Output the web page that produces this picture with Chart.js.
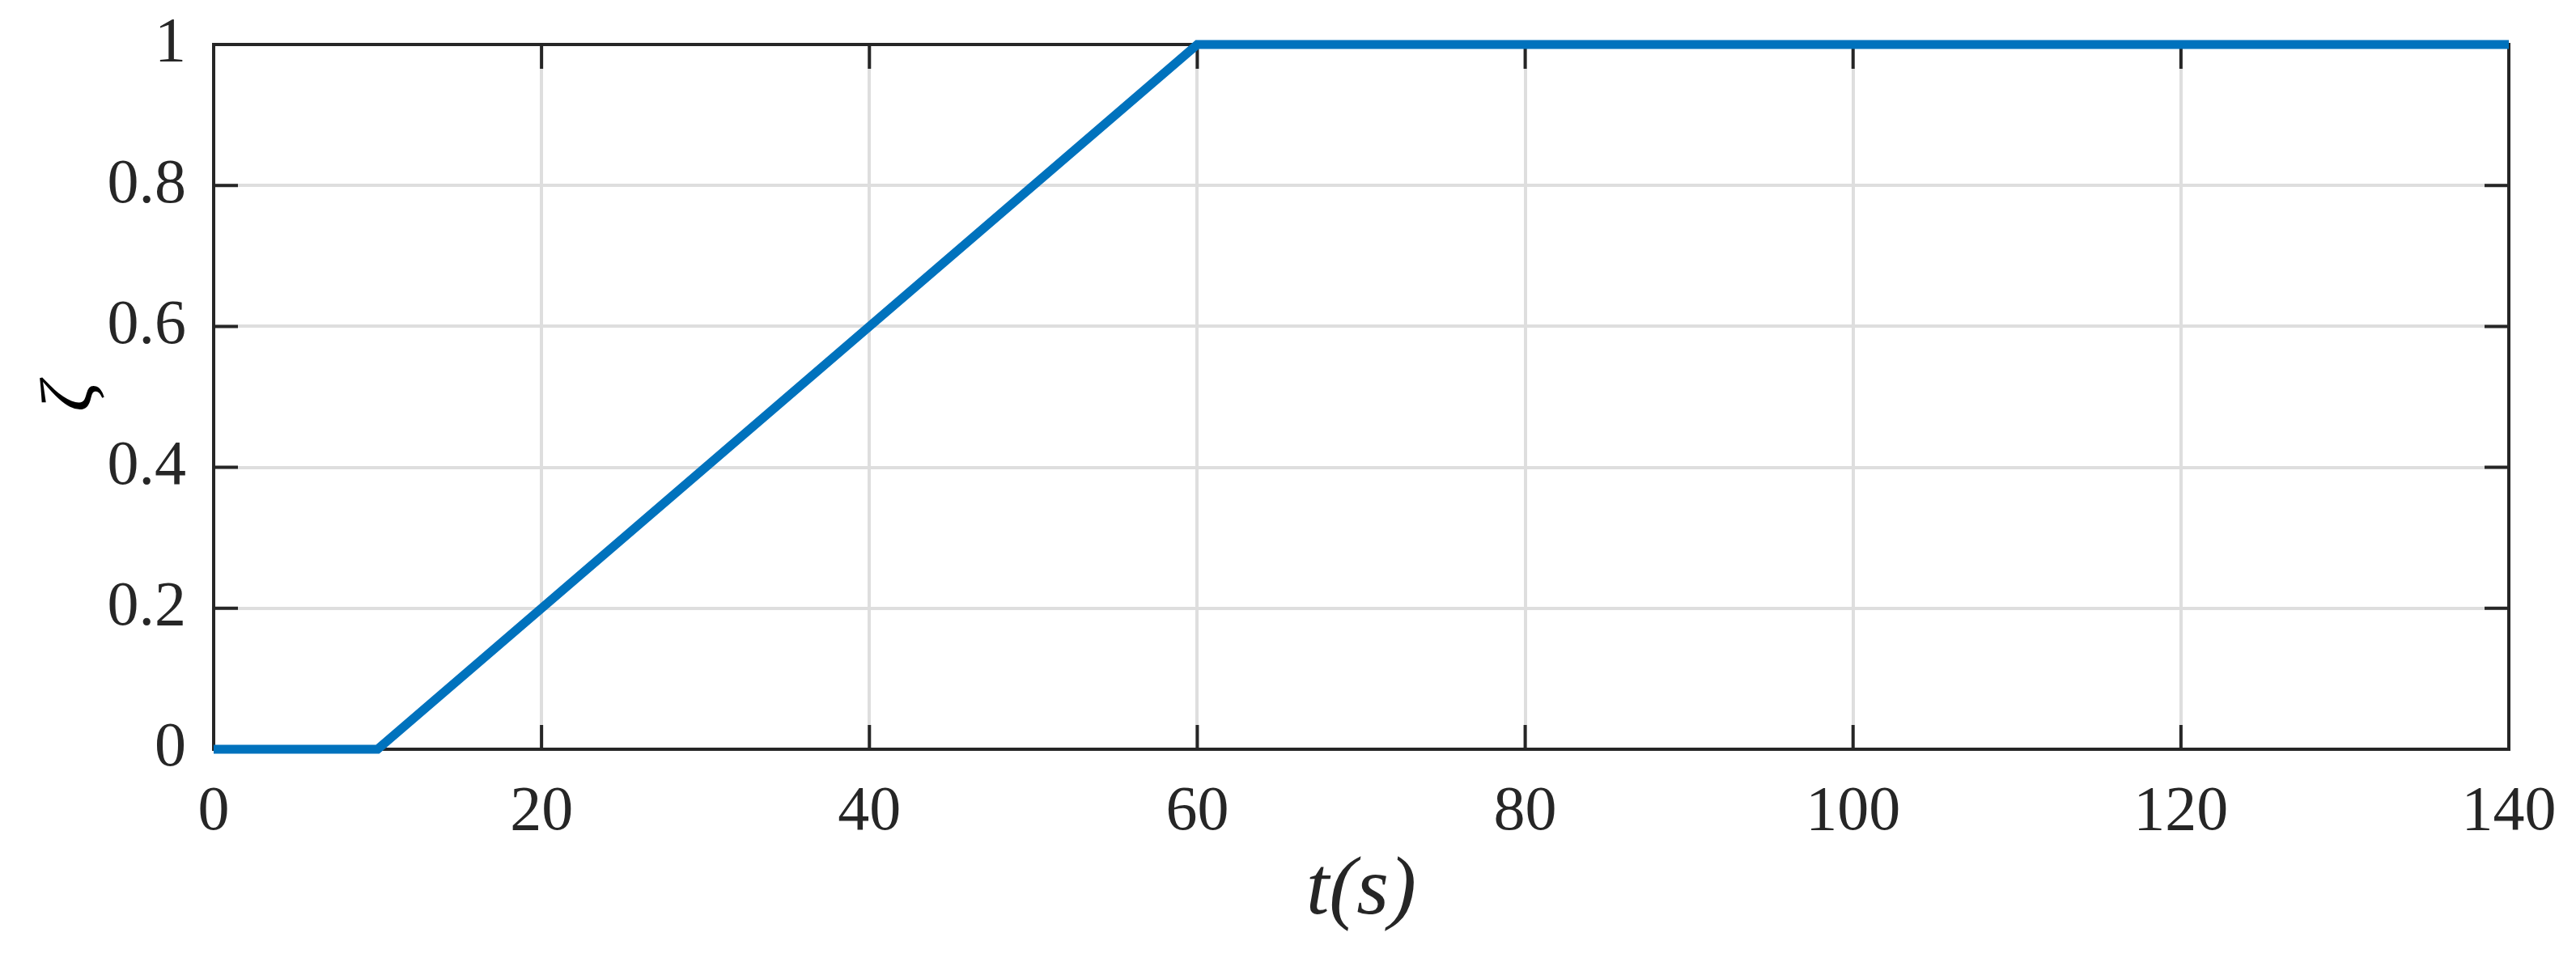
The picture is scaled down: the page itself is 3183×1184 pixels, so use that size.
<!DOCTYPE html>
<html>
<head>
<meta charset="utf-8">
<script src="https://cdn.jsdelivr.net/npm/chart.js@4.4.1/dist/chart.umd.min.js"></script>
<style>
  body { margin: 0; background: #fff; }
  canvas { display: block; }
</style>
</head>
<body>
<canvas id="myChart" width="3183" height="1184"></canvas>
<script>
// ramp of zeta over time
const timeValues = [0, 10, 60, 140];
const zetaValues = [0, 0, 1, 1];

const xTickValues = [0, 20, 40, 60, 80, 100, 120, 140];
const yTickValues = [0, 0.2, 0.4, 0.6, 0.8, 1];

const axisColor = '#262626';
const serif = "'Liberation Serif', 'DejaVu Serif', serif";

// box round the plot and inward tick marks, like matlab
const boxPlugin = {
  id: 'boxPlugin',
  beforeDatasetsDraw(chart) {
    const ctx = chart.ctx;
    const a = chart.chartArea;
    const xs = chart.scales.x;
    const ys = chart.scales.y;
    const tick = 30;
    ctx.save();
    ctx.strokeStyle = axisColor;
    ctx.lineWidth = 4;
    ctx.beginPath();
    xTickValues.forEach(v => {
      const px = xs.getPixelForValue(v);
      ctx.moveTo(px, a.bottom);
      ctx.lineTo(px, a.bottom - tick);
      ctx.moveTo(px, a.top);
      ctx.lineTo(px, a.top + tick);
    });
    yTickValues.forEach(v => {
      const py = ys.getPixelForValue(v);
      ctx.moveTo(a.left, py);
      ctx.lineTo(a.left + tick, py);
      ctx.moveTo(a.right, py);
      ctx.lineTo(a.right - tick, py);
    });
    ctx.stroke();
    ctx.strokeRect(a.left, a.top, a.right - a.left, a.bottom - a.top);
    ctx.restore();
  }
};

const data = {
  datasets: [
    {
      label: 'zeta',
      data: timeValues.map((t, i) => ({ x: t, y: zetaValues[i] })),
      borderColor: '#0072BD',
      borderWidth: 11,
      pointRadius: 0,
      fill: false,
      tension: 0,
      clip: false,
    },
  ]
};

// let the layout padding alone decide where the plot box sits
const noOverhang = scale => {
  scale.paddingTop = 0;
  scale.paddingBottom = 0;
  scale.paddingLeft = 0;
  scale.paddingRight = 0;
};

const config = {
  type: 'line',
  data: data,
  plugins: [boxPlugin],
  options: {
    responsive: false,
    animation: false,
    layout: {
      padding: { left: 0, top: 55, right: 83, bottom: 0 }
    },
    scales: {
      x: {
        type: 'linear',
        min: 0,
        max: 140,
        afterBuildTicks: scale => { scale.ticks = xTickValues.map(v => ({ value: v })); },
        afterFit: scale => { scale.height = 258; noOverhang(scale); },
        grid: { color: '#dedede', lineWidth: 4, drawTicks: false },
        border: { display: false },
        ticks: {
          padding: 32,
          color: axisColor,
          maxRotation: 0,
          font: { family: serif, size: 78 },
        },
        title: {
          display: true,
          text: 't(s)',
          color: axisColor,
          padding: { top: 0, bottom: 21 },
          font: { family: serif, size: 102, style: 'italic' },
        }
      },
      y: {
        min: 0,
        max: 1,
        afterBuildTicks: scale => { scale.ticks = yTickValues.map(v => ({ value: v })); },
        afterFit: scale => { scale.width = 264; noOverhang(scale); },
        grid: { color: '#dedede', lineWidth: 4, drawTicks: false },
        border: { display: false },
        ticks: {
          padding: 34,
          color: axisColor,
          font: { family: serif, size: 78 },
          callback: value => String(value),
        },
        title: {
          display: true,
          text: 'ζ',
          color: '#000',
          padding: { top: 34, bottom: 0 },
          font: { family: serif, size: 92, style: 'italic' },
        }
      }
    },
    plugins: {
      legend: { display: false },
      tooltip: { enabled: false }
    }
  }
};

const myChart = new Chart(
  document.getElementById('myChart'),
  config,
);
</script>
</body>
</html>
